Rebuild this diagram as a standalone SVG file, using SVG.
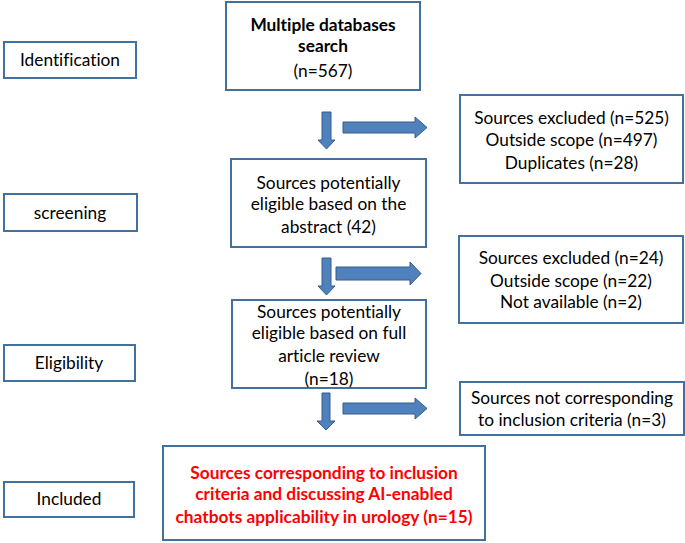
<svg xmlns="http://www.w3.org/2000/svg" width="685" height="543" viewBox="0 0 685 543">
<style>
.box{fill:#fff;stroke:#41719c;stroke-width:2}
.arr{fill:#4f81bd;stroke:#385d8a;stroke-width:1}
text{font-family:Lato,"Open Sans","Liberation Sans",sans-serif;font-size:17.3px;fill:#000;text-anchor:middle;font-variant-ligatures:none}
.b{font-weight:bold}
.red{fill:#ff0000;font-weight:bold}
</style>
<rect width="685" height="543" fill="#fff"/>
<g id="label-identification"><rect class="box" x="4" y="42" width="132" height="36"/><text x="70" y="66">Identification</text></g>
<g id="label-screening"><rect class="box" x="4" y="194" width="133" height="37"/><text x="70" y="219">screening</text></g>
<g id="label-eligibility"><rect class="box" x="4" y="345" width="131" height="36"/><text x="69" y="369">Eligibility</text></g>
<g id="label-included"><rect class="box" x="4" y="482" width="130" height="35"/><text x="69" y="505">Included</text></g>

<g id="search"><rect class="box" x="226" y="2" width="194" height="88"/>
<text class="b" x="323" y="31">Multiple databases</text><text class="b" x="323" y="52">search</text><text x="323" y="77">(n=567)</text></g>
<g id="excluded1"><rect class="box" x="460" y="95" width="223" height="88"/>
<text x="571.5" y="124">Sources excluded (n=525)</text><text x="571.5" y="146">Outside scope (n=497)</text><text x="571.5" y="169">Duplicates (n=28)</text></g>
<g id="abstract"><rect class="box" x="231" y="159" width="195" height="88"/>
<text x="328.5" y="189">Sources potentially</text><text x="328.5" y="210">eligible based on the</text><text x="328.5" y="233">abstract (42)</text></g>
<g id="excluded2"><rect class="box" x="459" y="236" width="224" height="87"/>
<text x="571" y="264">Sources excluded (n=24)</text><text x="571" y="287">Outside scope (n=22)</text><text x="571" y="308">Not available (n=2)</text></g>
<g id="fulltext"><rect class="box" x="232" y="300" width="194" height="88"/>
<text x="329" y="318">Sources potentially</text><text x="329" y="339">eligible based on full</text><text x="329" y="362">article review</text><text x="329" y="385">(n=18)</text></g>
<g id="notcorresponding"><rect class="box" x="460" y="382" width="224" height="53"/>
<text x="572" y="404">Sources not corresponding</text><text x="572" y="426">to inclusion criteria (n=3)</text></g>
<g id="included"><rect class="box" x="163" y="446" width="322" height="94"/>
<text class="red" x="324" y="479">Sources corresponding to inclusion</text><text class="red" x="324" y="500">criteria and discussing AI-enabled</text><text class="red" x="324" y="523">chatbots applicability in urology (n=15)</text></g>

<g id="connectors">
<polygon class="arr" points="322,112 331,112 331,140 335,140 326.5,149 318,140 322,140"/>
<polygon class="arr" points="343,122 415,122 415,117 427,127.5 415,138 415,133 343,133"/>
<polygon class="arr" points="322,258 331,258 331,286 335,286 326.5,295 318,286 322,286"/>
<polygon class="arr" points="336,267 410,267 410,262 421,273.5 410,285 410,280 336,280"/>
<polygon class="arr" points="322,393 330,393 330,421 335,421 326,430 317,421 322,421"/>
<polygon class="arr" points="343,403 415,403 415,398 427,408.5 415,419 415,414 343,414"/>
</g>
</svg>
